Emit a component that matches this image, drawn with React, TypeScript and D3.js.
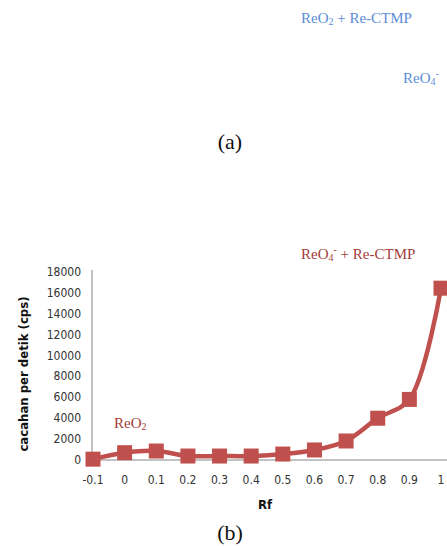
import React, { useEffect, useRef } from 'react';
import * as d3 from 'd3';

const rfLabels = ['-0.1', '0', '0.1', '0.2', '0.3', '0.4', '0.5', '0.6', '0.7', '0.8', '0.9', '1'];
const cpsValues = [80, 700, 860, 380, 380, 380, 570, 960, 1820, 4000, 5800, 16450];
const yTicks = [0, 2000, 4000, 6000, 8000, 10000, 12000, 14000, 16000, 18000];

const App = () => {
  const svgRef = useRef<SVGSVGElement>(null);

  useEffect(() => {
    const width = 447;
    const height = 546;
    const red = '#c0504d';
    const serif = '"Liberation Serif", "Times New Roman", serif';
    const sans = '"Liberation Sans Narrow", "DejaVu Sans Condensed", Arial, sans-serif';

    const svg = d3.select(svgRef.current);
    svg.selectAll('*').remove();
    svg.attr('viewBox', [0, 0, width, height]);

    // scales
    const x = d3.scalePoint<string>()
      .domain(rfLabels)
      .range([93, 441]);

    const y = d3.scaleLinear()
      .domain([0, 18000])
      .range([460, 272]);

    // top panel labels (a)
    svg.append('text')
      .attr('x', 301).attr('y', 23)
      .attr('font-family', serif).attr('font-size', 15)
      .attr('fill', '#5b8dd6')
      .html('ReO<tspan font-size="10" dy="2">2</tspan><tspan dy="-2"> + Re-CTMP</tspan>');

    svg.append('text')
      .attr('x', 403).attr('y', 83)
      .attr('font-family', serif).attr('font-size', 15)
      .attr('fill', '#5b8dd6')
      .html('ReO<tspan font-size="10" dy="2">4</tspan><tspan font-size="10" dy="-8">-</tspan>');

    svg.append('text')
      .attr('x', 230).attr('y', 149)
      .attr('text-anchor', 'middle')
      .attr('font-family', serif).attr('font-size', 22)
      .attr('fill', '#111')
      .text('(a)');

    // axes
    svg.append('line')
      .attr('x1', 92).attr('x2', 92)
      .attr('y1', y(18000) - 2).attr('y2', y(0))
      .attr('stroke', '#868686').attr('stroke-width', 1);

    svg.append('line')
      .attr('x1', 92).attr('x2', width)
      .attr('y1', y(0)).attr('y2', y(0))
      .attr('stroke', '#868686').attr('stroke-width', 1);

    svg.append('g')
      .selectAll('text')
      .data(yTicks)
      .join('text')
      .attr('x', 81)
      .attr('y', d => y(d) + 4)
      .attr('text-anchor', 'end')
      .attr('font-family', sans).attr('font-size', 12)
      .attr('fill', '#333')
      .text(d => String(d));

    svg.append('g')
      .selectAll('text')
      .data(rfLabels)
      .join('text')
      .attr('x', d => x(d)!)
      .attr('y', 484)
      .attr('text-anchor', 'middle')
      .attr('font-family', sans).attr('font-size', 12)
      .attr('fill', '#333')
      .text(d => d);

    svg.append('text')
      .attr('x', 265).attr('y', 509)
      .attr('text-anchor', 'middle')
      .attr('font-family', sans).attr('font-size', 13).attr('font-weight', 'bold')
      .attr('fill', '#111')
      .text('Rf');

    svg.append('text')
      .attr('transform', `translate(28,${(y(0) + y(18000)) / 2 + 8}) rotate(-90)`)
      .attr('text-anchor', 'middle')
      .attr('font-family', sans).attr('font-size', 13).attr('font-weight', 'bold')
      .attr('fill', '#111')
      .text('cacahan per detik (cps)');

    // series
    const pts = rfLabels.map((r, i) => ({ r, v: cpsValues[i] }));
    const line = d3.line<{ r: string; v: number }>()
      .x(d => x(d.r)!)
      .y(d => y(d.v))
      .curve(d3.curveCatmullRom.alpha(0.5));

    svg.append('path')
      .datum(pts)
      .attr('d', line)
      .attr('fill', 'none')
      .attr('stroke', red)
      .attr('stroke-width', 4.5);

    const size = 15;
    svg.append('g')
      .selectAll('rect')
      .data(pts)
      .join('rect')
      .attr('x', d => x(d.r)! - size / 2)
      .attr('y', d => y(d.v) - size / 2)
      .attr('width', size)
      .attr('height', size)
      .attr('fill', red);

    // bottom panel labels (b)
    svg.append('text')
      .attr('x', 301).attr('y', 259)
      .attr('font-family', serif).attr('font-size', 15)
      .attr('fill', '#a33c3a')
      .html('ReO<tspan font-size="10" dy="2">4</tspan><tspan font-size="10" dy="-8">-</tspan><tspan dy="6"> + Re-CTMP</tspan>');

    svg.append('text')
      .attr('x', 114).attr('y', 428)
      .attr('font-family', serif).attr('font-size', 15)
      .attr('fill', '#a33c3a')
      .html('ReO<tspan font-size="10" dy="2">2</tspan>');

    svg.append('text')
      .attr('x', 230).attr('y', 540)
      .attr('text-anchor', 'middle')
      .attr('font-family', serif).attr('font-size', 22)
      .attr('fill', '#111')
      .text('(b)');
  }, []);

  return (
    <svg ref={svgRef} width={447} height={546}
      style={{ position: 'absolute', left: 0, top: 0, display: 'block' }}></svg>
  );
};

export default App;
